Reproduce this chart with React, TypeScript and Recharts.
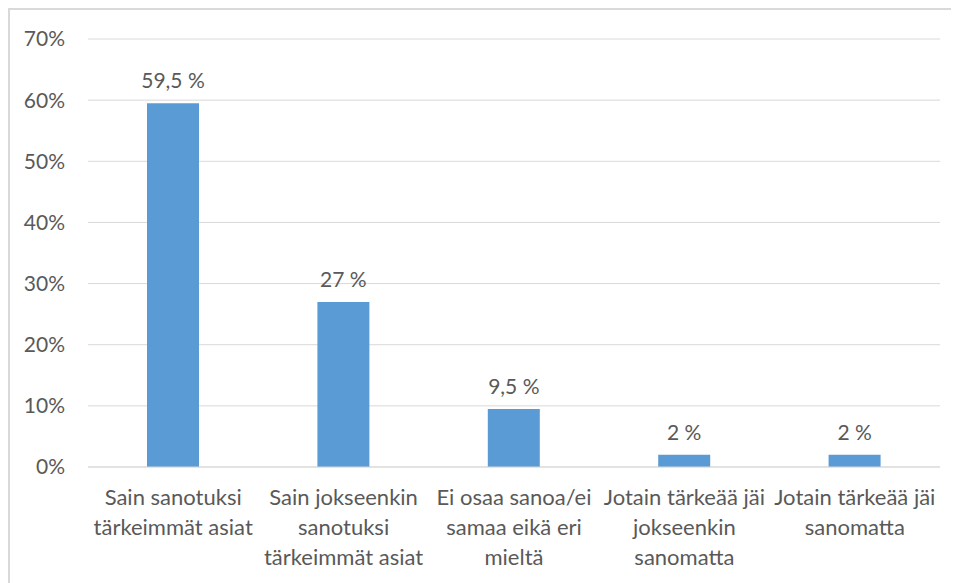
import { BarChart, Bar, XAxis, YAxis, CartesianGrid, LabelList } from 'recharts';

// categories as Excel wraps them (line breaks kept)
const categories = [
  'Sain sanotuksi\ntärkeimmät asiat',
  'Sain jokseenkin\nsanotuksi\ntärkeimmät asiat',
  'Ei osaa sanoa/ei\nsamaa eikä eri\nmieltä',
  'Jotain tärkeää jäi\njokseenkin\nsanomatta',
  'Jotain tärkeää jäi\nsanomatta',
];
const shares = [59.5, 27, 9.5, 2, 2];
const yTicks = [0, 10, 20, 30, 40, 50, 60, 70];

const data = categories.map((name, i) => ({ name, value: shares[i] }));

const FONT = 'Lato, "Open Sans", sans-serif';
const TEXT = '#595959';

// eslint-disable-next-line @typescript-eslint/no-explicit-any
const CategoryTick = ({ x, y, payload }: any) => {
  const lines = String(payload.value).split('\n');
  return (
    <text x={x} y={y} textAnchor="middle" fill={TEXT} fontSize={22} fontFamily={FONT}>
      {lines.map((ln, i) => (
        <tspan key={i} x={x} dy={i === 0 ? 30 : 30}>
          {ln}
        </tspan>
      ))}
    </text>
  );
};

const fmtLabel = (v: number) => `${String(v).replace('.', ',')} %`;

export default function App() {
  return (
    <div
      style={{
        width: 951,
        height: 575,
        boxSizing: 'border-box',
        borderTop: '2px solid #d9d9d9',
        borderLeft: '2px solid #d9d9d9',
        background: '#fff',
        overflow: 'hidden',
      }}
    >
      <BarChart
        width={949}
        height={573}
        data={data}
        margin={{ top: 29, right: 19, bottom: 26, left: 18 }}
      >
        <CartesianGrid vertical={false} stroke="#d9d9d9" strokeWidth={1} />
        <XAxis
          dataKey="name"
          axisLine={{ stroke: '#d9d9d9' }}
          tickLine={false}
          interval={0}
          height={90}
          tick={<CategoryTick />}
        />
        <YAxis
          domain={[0, 70]}
          ticks={yTicks}
          width={60}
          axisLine={false}
          tickLine={false}
          tickSize={0}
          tickMargin={23}
          tickFormatter={(v) => `${v}%`}
          tick={{ fill: TEXT, fontSize: 21, fontFamily: FONT }}
        />
        <Bar dataKey="value" fill="#5b9bd5" barSize={52} isAnimationActive={false}>
          <LabelList
            dataKey="value"
            position="top"
            offset={15}
            formatter={(v: any) => fmtLabel(v)}
            style={{ fill: TEXT, fontSize: 21, fontFamily: FONT }}
          />
        </Bar>
      </BarChart>
    </div>
  );
}
